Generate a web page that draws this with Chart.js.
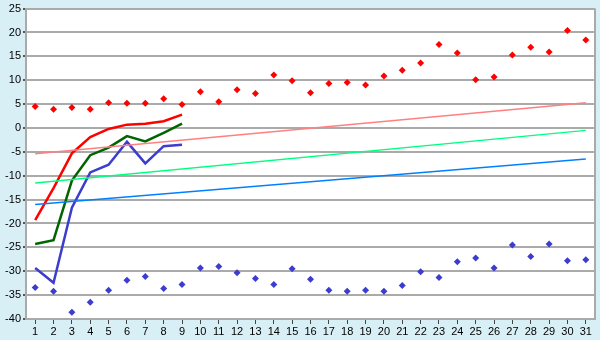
<!DOCTYPE html>
<html>
<head>
<meta charset="utf-8">
<script src="https://cdn.jsdelivr.net/npm/chart.js@4/dist/chart.umd.min.js"></script>
<style>
  html, body { margin: 0; padding: 0; background: #d9eff6; }
  #wrap { width: 600px; height: 340px; }
</style>
</head>
<body>
<div id="wrap"><canvas id="chart" width="600" height="340"></canvas></div>
<script>
// --- dados ---
const days = Array.from({ length: 31 }, (_, i) => String(i + 1));

const recordMax = [4.5, 3.9, 4.3, 3.9, 5.3, 5.2, 5.2, 6.1, 4.9, 7.6,
  5.5, 8.0, 7.2, 11.1, 9.9, 7.4, 9.3, 9.5, 9.0, 10.9,
  12.1, 13.6, 17.5, 15.7, 10.1, 10.7, 15.3, 16.9, 15.9, 20.4, 18.4];

const recordMin = [-33.4, -34.2, -38.6, -36.5, -34.0, -31.9, -31.1, -33.6, -32.8, -29.3,
  -29.0, -30.3, -31.5, -32.8, -29.5, -31.7, -34.0, -34.2, -34.0, -34.2,
  -33.0, -30.1, -31.3, -28.0, -27.2, -29.3, -24.5, -26.9, -24.3, -27.8, -27.6];

const curMax = [-19.3, -12.6, -5.3, -1.9, -0.2, 0.7, 0.9, 1.4, 2.8];
const curMean = [-24.3, -23.5, -11.0, -5.7, -4.1, -1.7, -2.8, -1.0, 0.9];
const curMin = [-29.3, -32.4, -16.7, -9.3, -7.7, -2.9, -7.4, -3.8, -3.5];

// linhas de tendência (início e fim)
const trendMax = [-5.4, 5.3];
const trendMean = [-11.5, -0.5];
const trendMin = [-16.0, -6.5];

const yTicks = { min: -40, max: 25, step: 5 };

function trendPoints(arr) {
  return [{ x: days[0], y: arr[0] }, { x: days[days.length - 1], y: arr[1] }];
}

// fundo branco da área do gráfico + borda direita
const plotBg = {
  id: "plotBg",
  beforeDraw(chart) {
    const { ctx, chartArea: a } = chart;
    ctx.save();
    ctx.fillStyle = "#ffffff";
    ctx.fillRect(a.left, a.top, a.right - a.left, a.bottom - a.top);
    ctx.restore();
  },
  afterDraw(chart) {
    const { ctx, chartArea: a } = chart;
    ctx.save();
    ctx.strokeStyle = "#aaaaaa";
    ctx.lineWidth = 2;
    ctx.beginPath();
    ctx.moveTo(a.right, a.top);
    ctx.lineTo(a.right, a.bottom);
    ctx.stroke();
    ctx.restore();
  }
};

const lineDefaults = { pointRadius: 0, fill: false, tension: 0 };
const tickFont = { family: "Liberation Sans", size: 11 };

new Chart(document.getElementById("chart"), {
  type: "line",
  data: {
    labels: days,
    datasets: [
      { ...lineDefaults, data: trendPoints(trendMax), borderColor: "#ff8080", borderWidth: 1.5 },
      { ...lineDefaults, data: trendPoints(trendMean), borderColor: "#00ff80", borderWidth: 1.5 },
      { ...lineDefaults, data: trendPoints(trendMin), borderColor: "#0080ff", borderWidth: 1.5 },
      { ...lineDefaults, data: curMax, borderColor: "#ff0000", borderWidth: 2.5 },
      { ...lineDefaults, data: curMean, borderColor: "#006400", borderWidth: 2.5 },
      { ...lineDefaults, data: curMin, borderColor: "#3c3cd0", borderWidth: 2.5 },
      {
        data: recordMax, showLine: false, pointStyle: "rectRot", pointRadius: 3.5,
        pointBackgroundColor: "#ff0000", pointBorderColor: "#ff0000", borderWidth: 0
      },
      {
        data: recordMin, showLine: false, pointStyle: "rectRot", pointRadius: 3.5,
        pointBackgroundColor: "#3c3cd0", pointBorderColor: "#3c3cd0", borderWidth: 0
      }
    ]
  },
  options: {
    responsive: false,
    animation: false,
    layout: { padding: { top: 4, right: 5, left: 0, bottom: 0 } },
    plugins: { legend: { display: false }, tooltip: { enabled: false } },
    scales: {
      x: {
        type: "category",
        offset: true,
        grid: { display: true, drawOnChartArea: false, tickLength: 5, color: "#444444", offset: false },
        border: { display: true, color: "#aaaaaa", width: 2 },
        ticks: { color: "#000000", padding: 1, maxRotation: 0, autoSkip: false, font: tickFont },
        afterFit(scale) { scale.height = 21; }
      },
      y: {
        min: yTicks.min,
        max: yTicks.max,
        grid: { color: "#aaaaaa", lineWidth: 2, tickLength: 3, tickColor: "#555555" },
        border: { display: true, color: "#aaaaaa", width: 2 },
        ticks: { stepSize: yTicks.step, color: "#000000", padding: 2, font: tickFont },
        afterFit(scale) { scale.width = 26; }
      }
    }
  },
  plugins: [plotBg]
});
</script>
</body>
</html>
